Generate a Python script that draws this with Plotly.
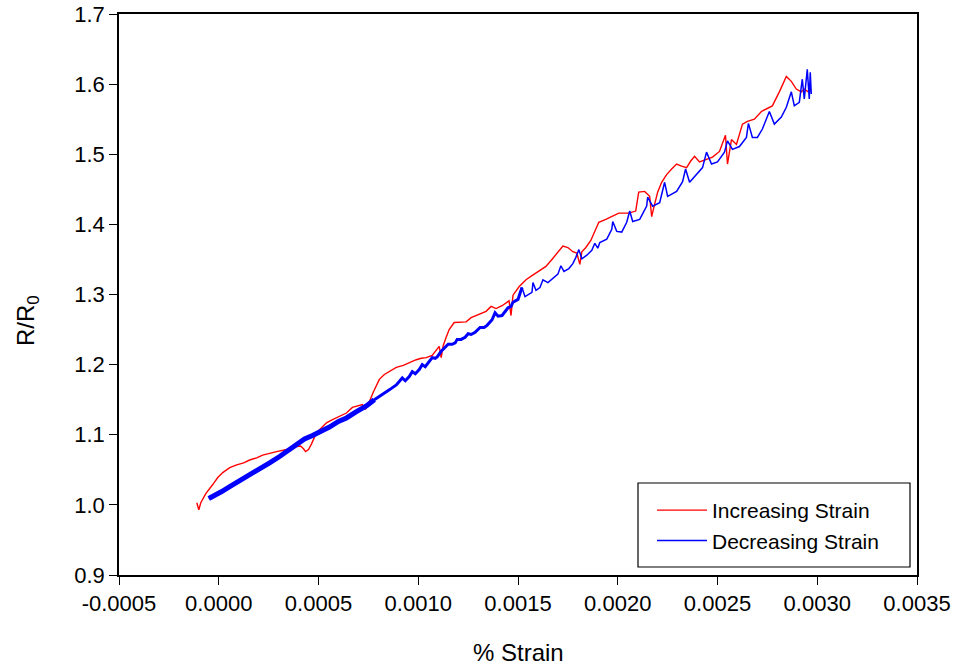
import numpy as np
import plotly.graph_objects as go

# Resistance ratio vs strain, loading branch
inc_strain = [
    -0.000110, -0.000100, -0.000090, -0.000065, -0.000030, -0.000005, 0.000020, 0.000055,
    0.000090, 0.000125, 0.000155, 0.000190, 0.000220, 0.000255, 0.000290, 0.000340,
    0.000370, 0.000390, 0.000410, 0.000425, 0.000435, 0.000450, 0.000465, 0.000490,
    0.000515, 0.000540, 0.000565, 0.000590, 0.000615, 0.000640, 0.000670, 0.000695,
    0.000720, 0.000735, 0.000750, 0.000775, 0.000805, 0.000830, 0.000855, 0.000890,
    0.000925, 0.000955, 0.000990, 0.001015, 0.001040, 0.001070, 0.001090, 0.001105,
    0.001115, 0.001125, 0.001140, 0.001155, 0.001180, 0.001210, 0.001240, 0.001265,
    0.001290, 0.001315, 0.001340, 0.001365, 0.001390, 0.001420, 0.001445, 0.001455,
    0.001465, 0.001475, 0.001505, 0.001540, 0.001570, 0.001605, 0.001640, 0.001670,
    0.001695, 0.001725, 0.001750, 0.001775, 0.001795, 0.001810, 0.001820, 0.001840,
    0.001865, 0.001885, 0.001905, 0.001940, 0.001970, 0.002005, 0.002055, 0.002090,
    0.002105, 0.002135, 0.002160, 0.002170, 0.002185, 0.002200, 0.002220, 0.002245,
    0.002270, 0.002295, 0.002320, 0.002345, 0.002365, 0.002385, 0.002410, 0.002445,
    0.002475, 0.002510, 0.002540, 0.002550, 0.002560, 0.002570, 0.002595, 0.002625,
    0.002650, 0.002685, 0.002720, 0.002750, 0.002775, 0.002810, 0.002845, 0.002870,
    0.002895, 0.002920, 0.002935, 0.002955,
]
inc_ratio = [
    1.003, 0.993, 1.003, 1.016, 1.029, 1.039, 1.046, 1.053,
    1.057, 1.060, 1.064, 1.067, 1.071, 1.073, 1.076, 1.079,
    1.080, 1.083, 1.084, 1.080, 1.076, 1.079, 1.087, 1.103,
    1.110, 1.117, 1.121, 1.124, 1.127, 1.131, 1.139, 1.141,
    1.143, 1.136, 1.144, 1.161, 1.179, 1.186, 1.190, 1.196,
    1.199, 1.203, 1.207, 1.209, 1.210, 1.213, 1.220, 1.226,
    1.210, 1.227, 1.239, 1.250, 1.260, 1.261, 1.261, 1.267,
    1.270, 1.273, 1.276, 1.283, 1.280, 1.284, 1.289, 1.291,
    1.270, 1.299, 1.311, 1.321, 1.327, 1.333, 1.340, 1.350,
    1.359, 1.369, 1.367, 1.361, 1.359, 1.343, 1.361, 1.367,
    1.377, 1.390, 1.403, 1.407, 1.411, 1.416, 1.416, 1.419,
    1.446, 1.447, 1.440, 1.411, 1.429, 1.446, 1.460, 1.471,
    1.479, 1.486, 1.483, 1.481, 1.490, 1.497, 1.489, 1.493,
    1.496, 1.504, 1.527, 1.486, 1.507, 1.521, 1.514, 1.543,
    1.547, 1.550, 1.561, 1.566, 1.569, 1.589, 1.611, 1.604,
    1.593, 1.589, 1.593, 1.589,
]

# Unloading branch
dec_strain = [
    -0.000050, -0.000020, 0.000015, 0.000055, 0.000105, 0.000155, 0.000205, 0.000255,
    0.000305, 0.000355, 0.000390, 0.000430, 0.000470, 0.000510, 0.000555, 0.000600,
    0.000640, 0.000690, 0.000740, 0.000780, 0.000815, 0.000855, 0.000890, 0.000905,
    0.000920, 0.000935, 0.000955, 0.000970, 0.000985, 0.001005, 0.001020, 0.001035,
    0.001055, 0.001070, 0.001085, 0.001095, 0.001115, 0.001135, 0.001150, 0.001170,
    0.001185, 0.001195, 0.001215, 0.001235, 0.001250, 0.001265, 0.001285, 0.001310,
    0.001330, 0.001345, 0.001370, 0.001385, 0.001400, 0.001420, 0.001435, 0.001450,
    0.001465, 0.001475, 0.001500, 0.001520, 0.001535, 0.001555, 0.001570, 0.001575,
    0.001590, 0.001610, 0.001625, 0.001650, 0.001675, 0.001700, 0.001715, 0.001730,
    0.001755, 0.001775, 0.001790, 0.001805, 0.001820, 0.001845, 0.001870, 0.001885,
    0.001900, 0.001910, 0.001945, 0.001970, 0.001975, 0.001995, 0.002020, 0.002045,
    0.002060, 0.002075, 0.002110, 0.002145, 0.002150, 0.002175, 0.002210, 0.002235,
    0.002250, 0.002295, 0.002325, 0.002340, 0.002360, 0.002395, 0.002425, 0.002445,
    0.002470, 0.002500, 0.002535, 0.002550, 0.002575, 0.002610, 0.002645, 0.002655,
    0.002675, 0.002700, 0.002725, 0.002760, 0.002785, 0.002820, 0.002845, 0.002870,
    0.002885, 0.002910, 0.002925, 0.002935, 0.002950, 0.002960, 0.002965, 0.002970,
]
dec_ratio = [
    1.009, 1.013, 1.019, 1.026, 1.034, 1.043, 1.051, 1.060,
    1.069, 1.079, 1.087, 1.094, 1.099, 1.104, 1.111, 1.119,
    1.124, 1.133, 1.141, 1.150, 1.156, 1.164, 1.171, 1.176,
    1.181, 1.177, 1.183, 1.190, 1.187, 1.193, 1.200, 1.197,
    1.204, 1.210, 1.209, 1.211, 1.219, 1.224, 1.229, 1.229,
    1.231, 1.236, 1.236, 1.239, 1.244, 1.243, 1.246, 1.253,
    1.253, 1.256, 1.264, 1.274, 1.269, 1.270, 1.276, 1.281,
    1.283, 1.289, 1.293, 1.310, 1.297, 1.300, 1.303, 1.317,
    1.306, 1.310, 1.321, 1.317, 1.323, 1.329, 1.341, 1.333,
    1.337, 1.344, 1.353, 1.364, 1.351, 1.356, 1.363, 1.373,
    1.366, 1.374, 1.379, 1.393, 1.404, 1.390, 1.389, 1.403,
    1.419, 1.404, 1.407, 1.426, 1.439, 1.426, 1.431, 1.460,
    1.440, 1.447, 1.461, 1.479, 1.460, 1.471, 1.481, 1.503,
    1.486, 1.489, 1.503, 1.519, 1.507, 1.511, 1.524, 1.544,
    1.524, 1.524, 1.536, 1.561, 1.543, 1.553, 1.567, 1.589,
    1.569, 1.574, 1.607, 1.579, 1.621, 1.579, 1.617, 1.586,
]

x_tick_vals = [-0.0005, 0.0, 0.0005, 0.0010, 0.0015, 0.0020, 0.0025, 0.0030, 0.0035]
x_tick_text = ["-0.0005", "0.0000", "0.0005", "0.0010", "0.0015",
               "0.0020", "0.0025", "0.0030", "0.0035"]
y_tick_vals = [0.9, 1.0, 1.1, 1.2, 1.3, 1.4, 1.5, 1.6, 1.7]
y_tick_text = ["0.9", "1.0", "1.1", "1.2", "1.3", "1.4", "1.5", "1.6", "1.7"]

FONT = "Liberation Sans, Arial, sans-serif"
RED = "#ff0000"
BLUE = "#0000ff"

# plot-area geometry in pixels (used to place the titles and the legend frame)
W, H = 958, 668
L, R, T, B = 119, 41, 14, 93
PW, PH = W - L - R, H - T - B


def px_to_paper(px, py):
    return (px - L) / PW, (H - B - py) / PH


fig = go.Figure()

fig.add_trace(go.Scatter(
    x=inc_strain, y=inc_ratio, mode="lines", name="Increasing Strain",
    line=dict(color=RED, width=1.4),
))
fig.add_trace(go.Scatter(
    x=dec_strain, y=dec_ratio, mode="lines", name="Decreasing Strain",
    line=dict(color=BLUE, width=1.5),
))

# The noisy low-strain part of the unloading branch reads as a thicker band
dx = np.array(dec_strain)
dy = np.array(dec_ratio)
for lo, hi, w in [(-1.0, 0.00079, 5.0), (0.00077, 0.00152, 3.0)]:
    m = (dx >= lo) & (dx <= hi)
    fig.add_trace(go.Scatter(
        x=dx[m], y=dy[m], mode="lines", showlegend=False, hoverinfo="skip",
        line=dict(color=BLUE, width=w),
    ))

axis_common = dict(
    showline=True, linecolor="black", linewidth=1.5, mirror=True,
    ticks="outside", tickcolor="black", tickwidth=1.2, ticklen=8,
    showgrid=False, zeroline=False, automargin=False,
    tickfont=dict(family=FONT, size=22, color="black"),
)

# legend frame
bx0, by0 = px_to_paper(638, 567)
bx1, by1 = px_to_paper(910, 483)
fig.add_shape(type="rect", xref="paper", yref="paper",
              x0=bx0, y0=by0, x1=bx1, y1=by1,
              line=dict(color="black", width=1.2), fillcolor="white", layer="above")

# axis titles
xt = px_to_paper(518, 652)
yt = px_to_paper(27, 321)
fig.add_annotation(text="% Strain", xref="paper", yref="paper", x=xt[0], y=xt[1],
                   xanchor="center", yanchor="middle", showarrow=False,
                   font=dict(family=FONT, size=24, color="black"))
fig.add_annotation(text="R/R<sub>0</sub>", xref="paper", yref="paper", x=yt[0], y=yt[1],
                   xanchor="center", yanchor="middle", showarrow=False, textangle=-90,
                   font=dict(family=FONT, size=24, color="black"))

lx, ly = px_to_paper(652, 490)
fig.update_layout(
    width=W, height=H,
    margin=dict(l=L, r=R, t=T, b=B),
    paper_bgcolor="white", plot_bgcolor="white",
    font=dict(family=FONT, color="black"),
    xaxis=dict(
        range=[-0.0005, 0.0035], tickmode="array",
        tickvals=x_tick_vals, ticktext=x_tick_text,
        **axis_common,
    ),
    yaxis=dict(
        range=[0.9, 1.7], tickmode="array",
        tickvals=y_tick_vals, ticktext=y_tick_text,
        **axis_common,
    ),
    legend=dict(
        x=lx, y=ly, xanchor="left", yanchor="top",
        bgcolor="rgba(0,0,0,0)", borderwidth=0,
        font=dict(family=FONT, size=21, color="black"),
        itemwidth=50, tracegroupgap=0,
    ),
    showlegend=True,
)

fig.write_html("out.html")
